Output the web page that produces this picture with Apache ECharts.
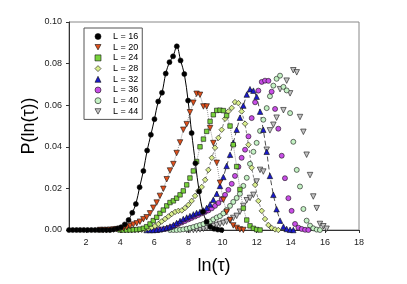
<!DOCTYPE html>
<html><head><meta charset="utf-8">
<script src="https://cdn.jsdelivr.net/npm/echarts@6/dist/echarts.min.js"></script>
<style>html,body{margin:0;padding:0;background:#fff}#c{width:407px;height:284px}</style>
</head><body><div id="c"></div>
<script>
// x grids (ln tau bin centres)
const lnTauD = [1.00,1.22,1.44,1.65,1.87,2.09,2.31,2.53,2.74,2.96,3.18,3.40,3.62,3.83,4.05,4.27,4.49,4.71,4.92,5.14,5.36,5.58,5.80,6.01,6.23,6.45,6.67,6.89,7.10,7.32,7.54,7.76,7.98,8.19,8.41,8.63,8.85,9.07,9.28,9.50,9.72,9.94];
const lnTauA = [2.82,3.01,3.21,3.40,3.60,3.79,3.99,4.19,4.38,4.58,4.77,4.97,5.16,5.36,5.55,5.75,5.94,6.14,6.33,6.53,6.73,6.92,7.12,7.31,7.51,7.70,7.90,8.09,8.29,8.48,8.68,8.88,9.07,9.27,9.46,9.66,9.85,10.05,10.24,10.44,10.63,10.83,11.02,11.22,11.42,11.61,11.81,12.00,12.20,12.39,12.59,12.78,12.98,13.17,13.37,13.57,13.76,13.96,14.15,14.35,14.54,14.74,14.93,15.13,15.32,15.52,15.71,15.91,16.10];
const lnTauB = [4.09,4.29,4.48,4.68,4.87,5.07,5.26,5.46,5.65,5.85,6.04,6.24,6.43,6.63,6.83,7.02,7.22,7.41,7.61,7.80,8.00,8.19,8.39,8.58,8.78,8.98,9.17,9.37,9.56,9.76,9.95,10.15,10.34,10.54,10.73,10.93,11.12,11.32,11.52,11.71,11.91,12.10,12.30,12.49,12.69,12.88,13.08,13.27,13.47,13.66,13.86,14.05,14.25,14.45,14.64,14.84,15.03];

// P(ln tau) values
const pL16 = [0,0,0,0,0,0,0,0,0,0,0,0,0.0003,0.0007,0.0013,0.0027,0.0048,0.0083,0.0125,0.0206,0.0284,0.0382,0.0458,0.0533,0.0618,0.0660,0.0752,0.0807,0.0835,0.0883,0.0815,0.0750,0.0622,0.0466,0.0321,0.0185,0.0088,0.0040,0.0016,0.0006,0.0002,0];
const pL20 = [0,0,0,0.0001,0.0002,0.0004,0.0006,0.0009,0.0013,0.0019,0.0026,0.0032,0.0040,0.0052,0.0061,0.0080,0.0107,0.0132,0.0164,0.0198,0.0244,0.0286,0.0317,0.0370,0.0421,0.0482,0.0509,0.0566,0.0612,0.0655,0.0650,0.0594,0.0594,0.0490,0.0418,0.0323,0.0227,0.0145,0.0087,0.0048,0.0022,0.0010,0.0003,0];
const pL24 = [null,null,null,null,null,null,0,0,0,0,0.0001,0.0002,0.0004,0.0008,0.0016,0.0029,0.0045,0.0061,0.0080,0.0096,0.0116,0.0132,0.0140,0.0153,0.0169,0.0188,0.0217,0.0250,0.0284,0.0329,0.0400,0.0437,0.0474,0.0522,0.0554,0.0575,0.0576,0.0574,0.0550,0.0500,0.0410,0.0305,0.0195,0.0105,0.0048,0.0020,0.0008,0.0002,0];
const pL28 = [0,0,0,0,0,0,0.0001,0.0003,0.0007,0.0012,0.0019,0.0029,0.0041,0.0053,0.0065,0.0077,0.0087,0.0092,0.0094,0.0106,0.0121,0.0140,0.0164,0.0188,0.0207,0.0241,0.0289,0.0347,0.0395,0.0443,0.0482,0.0535,0.0570,0.0587,0.0615,0.0610,0.0570,0.0511,0.0410,0.0299,0.0217,0.0140,0.0092,0.0053,0.0024,0.0010,0.0003,0];
const pL32 = [null,null,null,null,null,null,null,null,null,null,null,null,null,null,0,0,0,0.0001,0.0004,0.0007,0.0011,0.0017,0.0024,0.0034,0.0043,0.0053,0.0060,0.0067,0.0075,0.0082,0.0087,0.0094,0.0106,0.0123,0.0145,0.0174,0.0212,0.0255,0.0308,0.0362,0.0419,0.0482,0.0540,0.0598,0.0651,0.0677,0.0670,0.0641,0.0569,0.0482,0.0376,0.0260,0.0169,0.0100,0.0045,0.0016,0.0005,0.0001,0];
const pL36 = [null,null,null,null,null,null,null,null,null,0,0,0,0.0002,0.0005,0.0010,0.0014,0.0022,0.0029,0.0036,0.0043,0.0051,0.0058,0.0065,0.0072,0.0080,0.0087,0.0094,0.0104,0.0116,0.0130,0.0149,0.0169,0.0193,0.0222,0.0260,0.0304,0.0347,0.0386,0.0450,0.0538,0.0614,0.0670,0.0712,0.0718,0.0717,0.0665,0.0582,0.0487,0.0357,0.0249,0.0153,0.0092,0.0029,0.0011,0.0005,0.0001,0];
const pL40 = [null,null,null,null,null,null,null,null,null,null,null,null,null,null,null,null,null,null,null,null,null,0,0,0,0.0001,0.0003,0.0006,0.0010,0.0014,0.0019,0.0024,0.0029,0.0036,0.0041,0.0051,0.0060,0.0067,0.0080,0.0096,0.0116,0.0135,0.0154,0.0174,0.0212,0.0251,0.0318,0.0376,0.0419,0.0476,0.0530,0.0586,0.0643,0.0694,0.0727,0.0742,0.0688,0.0671,0.0562,0.0424,0.0289,0.0209,0.0101,0.0045,0.0021,0.0008,0.0002,0];
const pL44 = [null,null,null,null,null,null,null,null,null,null,null,null,null,null,null,null,null,null,null,null,null,null,null,null,null,null,0,0,0,0.0001,0.0003,0.0006,0.0010,0.0014,0.0019,0.0024,0.0029,0.0034,0.0040,0.0046,0.0058,0.0068,0.0088,0.0116,0.0143,0.0154,0.0169,0.0233,0.0289,0.0281,0.0386,0.0479,0.0506,0.0540,0.0677,0.0576,0.0718,0.0657,0.0768,0.0758,0.0543,0.0472,0.0362,0.0264,0.0161,0.0105,0.0029,0.0018,0.0006];

const seriesNames = ['L = 16','L = 20','L = 24','L = 28','L = 32','L = 36','L = 40','L = 44'];
const xTicks = [2,4,6,8,10,12,14,16,18];

function pairs(xs, ys){const o=[];for(let i=0;i<ys.length;i++){if(ys[i]!==null)o.push([xs[i],ys[i]]);}return o;}

const DOWN = 'path://M0,0L10,0L5,9Z';
const specs = [
 {x:lnTauD,y:pL16,symbol:'circle',icon:'circle',size:5,rot:0,color:'#000000',line:{type:'solid',color:'#000',width:1},smooth:0.35},
 {x:lnTauA,y:pL20,symbol:'triangle',icon:DOWN,size:5.5,rot:180,color:'#e0501c',line:{type:'dotted',color:'#999',width:1}},
 {x:lnTauA,y:pL24,symbol:'rect',icon:'rect',size:4.5,rot:0,color:'#78d23c',line:{type:'dotted',color:'#999',width:1}},
 {x:lnTauB,y:pL28,symbol:'diamond',icon:'diamond',size:5.5,rot:0,color:'#d9ee8c',line:{type:[3,2],color:'#666',width:0.8}},
 {x:lnTauA,y:pL32,symbol:'triangle',icon:'triangle',size:5.5,rot:0,color:'#1a1acc',line:{type:[5,3],color:'#222',width:0.8}},
 {x:lnTauB,y:pL36,symbol:'circle',icon:'circle',size:5,rot:0,color:'#c84ee6'},
 {x:lnTauA,y:pL40,symbol:'circle',icon:'circle',size:5,rot:0,color:'#c4f2c4'},
 {x:lnTauA,y:pL44,symbol:'triangle',icon:DOWN,size:5.5,rot:180,color:'#c4c4c4'}
];

const series = [];
specs.forEach((s,i)=>{
  if(s.line){
    series.push({type:'line',name:seriesNames[i]+' fit',data:pairs(s.x,s.y),showSymbol:false,symbol:'none',
      smooth:s.smooth||false,lineStyle:{type:s.line.type,color:s.line.color,width:s.line.width},z:1,silent:true,animation:false});
  }
});
for(let i=specs.length-1;i>=0;i--){
  const s=specs[i];
  series.push({type:'scatter',name:seriesNames[i],data:pairs(s.x,s.y),symbol:s.symbol,symbolSize:s.size,symbolRotate:s.rot,
    itemStyle:{color:s.color,borderColor:'#111',borderWidth:0.6,opacity:1},z:2,animation:false});
}
const legendData = seriesNames.map((n,i)=>({name:n,icon:specs[i].icon,itemStyle:{color:specs[i].color,borderColor:'#111',borderWidth:0.6}}));

const chart = echarts.init(document.getElementById('c'),null,{renderer:'canvas'});
const FF = '"Liberation Sans", Arial, sans-serif';
chart.setOption({
  backgroundColor:'#fff',
  animation:false,
  grid:{left:69,right:48,top:22,bottom:54,show:true,borderColor:'#888',borderWidth:1,backgroundColor:'transparent'},
  xAxis:{type:'value',min:1,max:18,
    axisLine:{show:true,lineStyle:{color:'#333',width:1}},
    axisTick:{show:true,length:3,customValues:xTicks,lineStyle:{color:'#333'}},
    axisLabel:{customValues:xTicks,fontSize:9,fontFamily:FF,color:'#222',margin:8},
    splitLine:{show:false}},
  yAxis:{type:'value',min:0,max:0.1,interval:0.02,
    axisLine:{show:true,lineStyle:{color:'#333',width:1}},
    axisTick:{show:true,length:3,lineStyle:{color:'#333'}},
    axisLabel:{fontSize:9,fontFamily:FF,color:'#222',margin:7,formatter:v=>v.toFixed(2)},
    splitLine:{show:false}},
  legend:{data:legendData,orient:'vertical',left:84,top:28,padding:[3.5,4,3,10.7],
    itemWidth:6,itemHeight:6,itemGap:0.7,
    textStyle:{fontSize:9,fontFamily:FF,color:'#000',lineHeight:10,padding:[0,0,0,7]},
    borderColor:'#555',borderWidth:1,backgroundColor:'#fff'},
  graphic:[
    {type:'text',style:{text:'ln(τ)',fontSize:18,fontFamily:FF,fill:'#000',textAlign:'center',textVerticalAlign:'middle'},position:[214,266]},
    {type:'text',style:{text:'P(ln(τ))',fontSize:18,fontFamily:FF,fill:'#000',textAlign:'center',textVerticalAlign:'middle'},position:[29,126],rotation:Math.PI/2}
  ],
  series:series
});
</script></body></html>
